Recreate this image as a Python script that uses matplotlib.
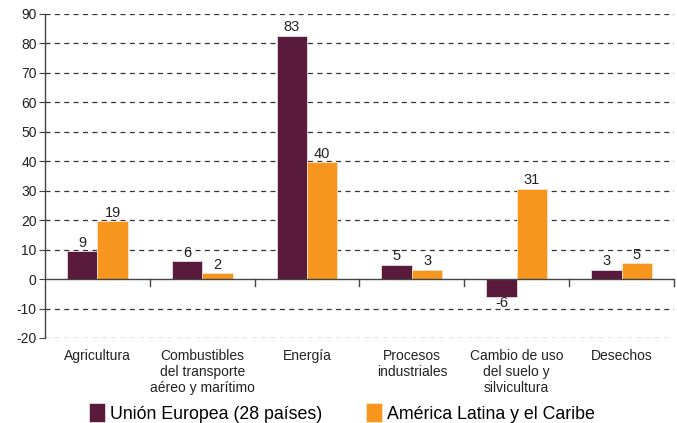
import numpy as np
import matplotlib
matplotlib.use('Agg')
import matplotlib.pyplot as plt

plt.rcParams['font.family'] = ['Liberation Sans', 'DejaVu Sans']

categories = ['Agricultura', 'Combustibles\ndel transporte\naéreo y marítimo', 'Energía',
              'Procesos\nindustriales', 'Cambio de uso\ndel suelo y\nsilvicultura', 'Desechos']
ue_values = [9.4, 6.1, 82.6, 4.9, -6.2, 3.1]
alc_values = [19.6, 1.9, 39.6, 3.1, 30.6, 5.4]
ue_labels = ['9', '6', '83', '5', '-6', '3']
alc_labels = ['19', '2', '40', '3', '31', '5']
series_names = ['Unión Europea (28 países)', 'América Latina y el Caribe']
yticks = list(range(-20, 91, 10))

ue_color = '#5a1a3b'
alc_color = '#f7961f'

fig = plt.figure(figsize=(6.77, 4.23), dpi=100)
ax = fig.add_axes([0.0665, 0.201, 0.929, 0.766])

x = np.arange(len(categories))
w = 0.29
b1 = ax.bar(x - w / 2, ue_values, w, color=ue_color, edgecolor='#e8dde2', linewidth=0.6,
            label=series_names[0], zorder=3)
b2 = ax.bar(x + w / 2, alc_values, w, color=alc_color, edgecolor='#fbe2c4', linewidth=0.6,
            label=series_names[1], zorder=3)

# value labels
for rect, lab, v in zip(b1, ue_labels, ue_values):
    if v >= 0:
        ax.text(rect.get_x() + rect.get_width() / 2, v + 0.5, lab, ha='center', va='bottom',
                fontsize=10.5, color='#222222')
    else:
        ax.text(rect.get_x() + rect.get_width() / 2, v + 0.4, lab, ha='center', va='top',
                fontsize=10.5, color='#222222', zorder=4)
for rect, lab, v in zip(b2, alc_labels, alc_values):
    ax.text(rect.get_x() + rect.get_width() / 2, v + 0.5, lab, ha='center', va='bottom',
            fontsize=10.5, color='#222222')

# grid lines
for yv in yticks:
    if yv == 0:
        continue
    ax.axhline(yv, color='#333333', linestyle=(0, (4, 3.5)), linewidth=0.9, zorder=1)
ax.axhline(0, color='#444444', linewidth=1.0, zorder=4)

ax.set_xlim(-0.5, len(categories) - 0.5)
ax.set_ylim(-20, 90)
ax.set_yticks(yticks)
ax.set_yticklabels([str(t) for t in yticks], fontsize=10, color='#222222')
ax.tick_params(axis='y', length=4, width=0.8, color='#444444', pad=2)

for s in ['top', 'right', 'bottom']:
    ax.spines[s].set_visible(False)
ax.spines['left'].set_color('#444444')
ax.spines['left'].set_linewidth(1.0)

# category boundary ticks on the zero line
ax.set_xticks([])
for xb in np.arange(0.5, len(categories), 1.0):
    ax.plot([xb, xb], [0, -2.2], color='#444444', linewidth=1.0, zorder=4, clip_on=False)

for xi, cat in zip(x, categories):
    ax.text(xi, -23.9, cat, ha='center', va='top', fontsize=10, color='#222222',
            linespacing=1.16)

fig.legend(handles=[b1, b2], labels=series_names, loc='center', ncol=2,
           bbox_to_anchor=(0.505, 0.024), frameon=False, fontsize=12.8,
           handlelength=0.9, handleheight=1.3, handletextpad=0.25, columnspacing=2.5,
           borderaxespad=0)

fig.savefig('out.png', dpi=100)
